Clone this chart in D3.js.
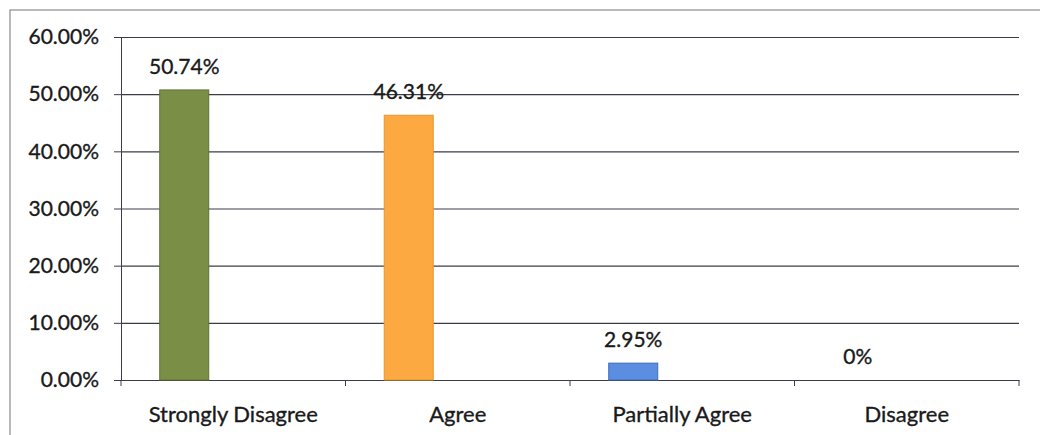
<!DOCTYPE html>
<html>
<head>
<meta charset="utf-8">
<script src="https://cdn.jsdelivr.net/npm/d3@7"></script>
<style>
  body { margin: 0; background: #fff; }
  text { font-family: Lato, "Open Sans", sans-serif; fill: #1a1a1a; stroke: #1a1a1a; stroke-width: 0.35px; }
</style>
</head>
<body>
<div id="chart"></div>
<script>
var categories = ["Strongly Disagree", "Agree", "Partially Agree", "Disagree"];
var values = [50.74, 46.31, 2.95, 0];
var colors = ["#7a8f45", "#fba940", "#5b8de0", "#5b8de0"];
var strokes = ["#5e7234", "#e8952e", "#3f6dbd", "#3f6dbd"];
var yTicks = [0, 10, 20, 30, 40, 50, 60];

var w = 1040, h = 435;
var marginLeft = 121, marginRight = 21, marginTop = 37, marginBottom = 55;
var contentsWidth = w - marginLeft - marginRight, contentsHeight = h - marginTop - marginBottom;

var svg = d3.select("#chart").append("svg")
  .attr("width", w)
  .attr("height", h);

// outer frame
svg.append("rect")
  .attr("x", 10).attr("y", 10)
  .attr("width", w).attr("height", h)
  .style("fill", "none")
  .style("stroke", "#8a8a94")
  .style("stroke-width", 1.2);

var chartG = svg.append("g")
  .attr("transform", "translate(" + marginLeft + "," + marginTop + ")");

var xScale = d3.scaleBand().domain(categories).range([0, contentsWidth]).padding(0);
var yScale = d3.scaleLinear().domain([0, 60]).range([contentsHeight, 0]);
// three slots per category, only the first one carries a bar
var slot = d3.scaleBand().domain([0, 1, 2]).range([0, xScale.bandwidth()]).paddingInner(0).paddingOuter(0.79);

// gridlines
var grid = chartG.append("g")
  .call(d3.axisLeft(yScale).tickValues(yTicks).tickSize(-contentsWidth).tickFormat(""));
grid.select(".domain").remove();
grid.selectAll("line").style("stroke", "#3c3c48").style("stroke-width", 1.2);

// y axis
var yAxis = chartG.append("g")
  .call(d3.axisLeft(yScale).tickValues(yTicks).tickSize(7).tickPadding(15)
    .tickFormat(function(d) { return d.toFixed(2) + "%"; }));
yAxis.select(".domain").style("stroke", "#3c3c48");
yAxis.selectAll("line").style("stroke", "#3c3c48");
yAxis.selectAll("text").style("font-size", "21px").style("font-family", "Lato").attr("fill", "#1a1a1a");

// x axis
var xAxis = chartG.append("g")
  .attr("transform", "translate(0," + contentsHeight + ")")
  .call(d3.axisBottom(xScale).tickSize(0).tickPadding(26));
xAxis.select(".domain").style("stroke", "#3c3c48").style("stroke-width", 1.2);
xAxis.selectAll("text").style("font-size", "22px").style("font-family", "Lato").attr("fill", "#1a1a1a");

// category boundary ticks
var bounds = categories.map(function(c) { return xScale(c); }).concat([contentsWidth]);
chartG.append("g").selectAll("line")
  .data(bounds)
  .enter().append("line")
  .attr("x1", function(d) { return d; })
  .attr("x2", function(d) { return d; })
  .attr("y1", contentsHeight)
  .attr("y2", contentsHeight + 6)
  .style("stroke", "#3c3c48");

// bars
chartG.append("g").selectAll("rect")
  .data(values)
  .enter().append("rect")
  .attr("x", function(d, i) { return xScale(categories[i]) + slot(0); })
  .attr("y", function(d) { return yScale(d); })
  .attr("width", slot.bandwidth())
  .attr("height", function(d) { return contentsHeight - yScale(d); })
  .style("fill", function(d, i) { return colors[i]; })
  .style("stroke", function(d, i) { return d > 0 ? strokes[i] : "none"; })
  .style("stroke-width", 1);

// value labels
chartG.append("g").selectAll("text")
  .data(values)
  .enter().append("text")
  .attr("x", function(d, i) { return xScale(categories[i]) + slot(0) + slot.bandwidth() / 2; })
  .attr("y", function(d) { return yScale(d) - 16; })
  .attr("text-anchor", "middle")
  .style("font-size", "21px")
  .text(function(d) { return d === 0 ? "0%" : d.toFixed(2) + "%"; });
</script>
</body>
</html>
